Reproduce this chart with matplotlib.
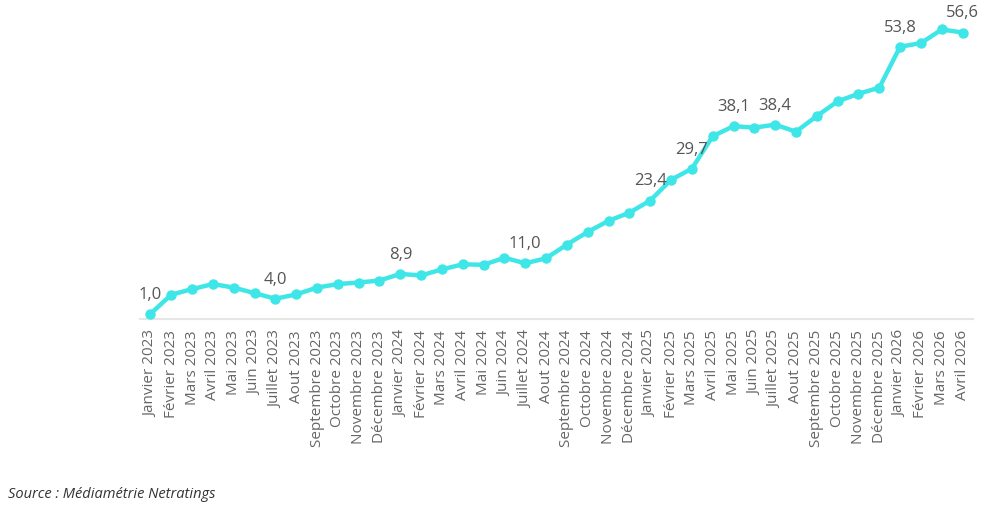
import matplotlib.pyplot as plt
import numpy as np

plt.rcParams['font.family'] = ['Open Sans', 'DejaVu Sans']

MOIS = ["Janvier", "Février", "Mars", "Avril", "Mai", "Juin", "Juillet", "Aout",
        "Septembre", "Octobre", "Novembre", "Décembre"]
labels = [f"{MOIS[i % 12]} {2023 + i // 12}" for i in range(40)]

values = [1.0, 4.8, 5.9, 6.9, 6.2, 5.1, 4.0, 4.85, 6.2, 6.9, 7.2, 7.6,
          8.9, 8.6, 9.8, 10.8, 10.7, 12.1, 11.0, 12.0, 14.7, 17.2, 19.4, 21.0,
          23.4, 27.5, 29.7, 36.1, 38.1, 37.8, 38.4, 37.0, 40.1, 43.0, 44.5, 45.7,
          53.8, 54.5, 57.2, 56.6]

# points qui portent une valeur
annotated = [0, 6, 12, 18, 24, 26, 28, 30, 36, 39]

COLOR = "#3fe6e8"


def main():
    fig = plt.figure(figsize=(10, 5.12), dpi=100)
    ax = fig.add_axes([0.14, 0.377, 0.833, 0.603])
    x = np.arange(len(values))
    ax.plot(x, values, color=COLOR, lw=3.2, marker="o", ms=6.5,
            solid_capstyle="round", zorder=3)
    for i in annotated:
        ax.annotate(f"{values[i]:.1f}".replace(".", ","), (x[i], values[i]),
                    xytext=(0, 8), textcoords="offset points", ha="center",
                    va="bottom", fontsize=12, color="#555555")

    ax.set_xlim(-0.5, 39.5)
    ax.set_ylim(0, 61)
    ax.set_xticks(x)
    ax.set_xticklabels(labels, rotation=90, fontsize=11, color="#666666")
    ax.tick_params(axis="x", length=0, pad=8)
    ax.set_yticks([])
    for side in ("top", "right", "left"):
        ax.spines[side].set_visible(False)
    ax.spines["bottom"].set_color("#e6e6e6")
    ax.spines["bottom"].set_linewidth(1.5)

    fig.text(0.008, 0.02, "Source : Médiamétrie Netratings", fontsize=10.5,
             style="italic", color="#333333", ha="left", va="bottom")
    fig.savefig("out.png")
    plt.close(fig)


if __name__ == "__main__":
    main()
